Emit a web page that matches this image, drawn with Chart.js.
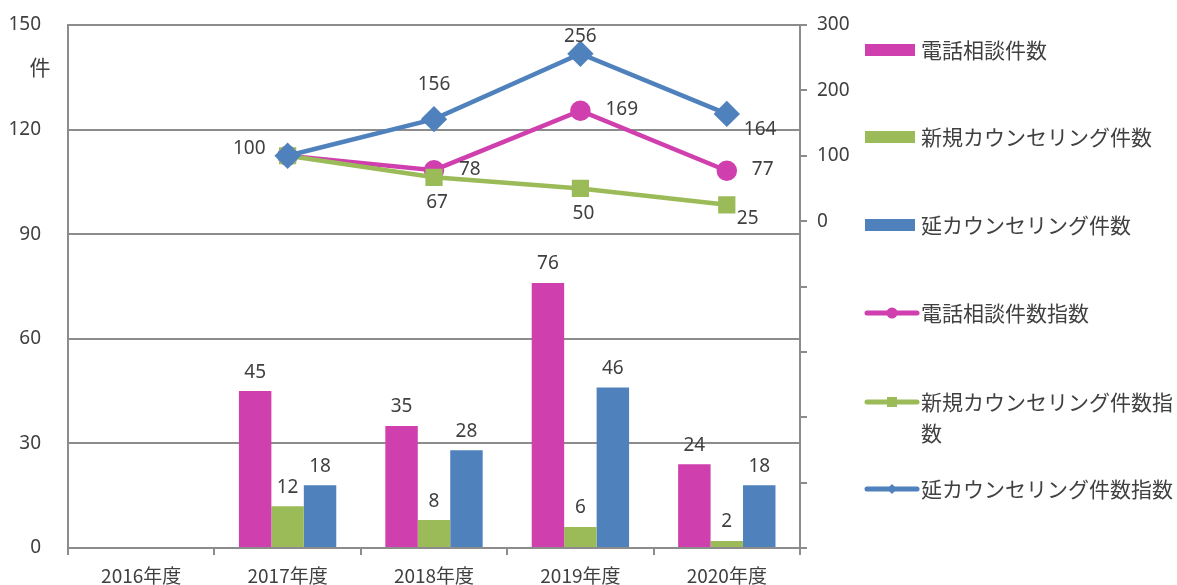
<!DOCTYPE html>
<html>
<head>
<meta charset="utf-8">
<script src="https://cdn.jsdelivr.net/npm/chart.js@4"></script>
<style>
  html, body { margin: 0; padding: 0; background: #fff; }
  #wrap { width: 1177px; height: 585px; }
</style>
</head>
<body>
<div id="wrap"><canvas id="myChart"></canvas></div>
<script>
var Years = ['2016年度', '2017年度', '2018年度', '2019年度', '2020年度'];
var PhoneCounts = [null, 45, 35, 76, 24];
var NewCounts = [null, 12, 8, 6, 2];
var TotalCounts = [null, 18, 28, 46, 18];
var PhoneIndex = [null, 100, 78, 169, 77];
var NewIndex = [null, 100, 67, 50, 25];
var TotalIndex = [null, 100, 156, 256, 164];
// where each index label sits relative to its point
var PhoneIndexPos = [null, 'left', 'right', 'right', 'right'];
var NewIndexPos = [null, 'none', 'below', 'below', 'belowRight'];
var TotalIndexPos = [null, 'none', 'aboveFar', 'above', 'belowRightFar'];

var TextColor = '#404040';
var GridColor = '#8c8c8c';
var NumFont = '"Noto Sans", sans-serif';
var JpFont = '"Noto Sans CJK JP", sans-serif';

var magenta = '#d03fae';
var green = '#9bbb59';
var blue = '#4f81bd';

// labels on bars and points
var valueLabels = {
    id: 'valueLabels',
    afterDatasetsDraw(chart) {
        var ctx = chart.ctx;
        ctx.save();
        ctx.fillStyle = TextColor;
        ctx.font = '19px ' + NumFont;
        ctx.textBaseline = 'middle';
        chart.data.datasets.forEach((ds, i) => {
            var meta = chart.getDatasetMeta(i);
            meta.data.forEach((el, j) => {
                var v = ds.data[j];
                if (v == null) return;
                var x = el.x, y = el.y;
                if (ds.type == 'bar') {
                    ctx.textAlign = 'center';
                    ctx.fillText(v, x, y - 19);
                    return;
                }
                var pos = ds.labelPos[j];
                if (pos == 'none') return;
                if (pos == 'left') { ctx.textAlign = 'right'; ctx.fillText(v, x - 22, y - 7); }
                if (pos == 'right') { ctx.textAlign = 'left'; ctx.fillText(v, x + 25, y - 1); }
                if (pos == 'below') { ctx.textAlign = 'center'; ctx.fillText(v, x + 3, y + 25); }
                if (pos == 'belowRight') { ctx.textAlign = 'left'; ctx.fillText(v, x + 10, y + 14); }
                if (pos == 'belowRightFar') { ctx.textAlign = 'left'; ctx.fillText(v, x + 17, y + 16); }
                if (pos == 'above') { ctx.textAlign = 'center'; ctx.fillText(v, x, y - 17); }
                if (pos == 'aboveFar') { ctx.textAlign = 'center'; ctx.fillText(v, x, y - 35); }
            });
        });
        // unit label of left axis
        ctx.font = '21px ' + JpFont;
        ctx.textAlign = 'center';
        ctx.fillText('件', chart.chartArea.left - 28, chart.chartArea.top + 42);
        ctx.restore();
    }
};

// legend on the right side, drawn by hand so the long name can wrap
var sideLegend = {
    id: 'sideLegend',
    afterDraw(chart) {
        var ctx = chart.ctx;
        var rows = [50, 137, 225, 313, 402, 489];
        var x0 = 865;
        var textX = 921;
        var maxW = 256;
        ctx.save();
        ctx.font = '21px ' + JpFont;
        ctx.textAlign = 'left';
        ctx.textBaseline = 'middle';
        chart.data.datasets.forEach((ds, i) => {
            var y = rows[i];
            var col = ds.borderColor;
            if (ds.type == 'bar') {
                ctx.fillStyle = ds.backgroundColor;
                ctx.fillRect(x0, y - 6, 50, 12);
            } else {
                ctx.strokeStyle = col;
                ctx.lineWidth = 5;
                ctx.lineCap = 'round';
                ctx.beginPath();
                ctx.moveTo(x0 + 2, y);
                ctx.lineTo(x0 + 52, y);
                ctx.stroke();
                ctx.fillStyle = col;
                var cx = x0 + 27;
                ctx.beginPath();
                if (ds.pointStyle == 'circle') {
                    ctx.arc(cx, y, 5.5, 0, Math.PI * 2);
                } else if (ds.pointStyle == 'rect') {
                    ctx.rect(cx - 5, y - 5, 10, 10);
                } else {
                    ctx.moveTo(cx, y - 5); ctx.lineTo(cx + 5, y); ctx.lineTo(cx, y + 5); ctx.lineTo(cx - 5, y);
                }
                ctx.fill();
            }
            ctx.fillStyle = TextColor;
            var line = '';
            var ly = y;
            Array.from(ds.label).forEach(ch => {
                if (ctx.measureText(line + ch).width > maxW) {
                    ctx.fillText(line, textX, ly);
                    line = ch;
                    ly += 31;
                } else {
                    line += ch;
                }
            });
            ctx.fillText(line, textX, ly);
        });
        ctx.restore();
    }
};

var ctx = document.getElementById('myChart').getContext('2d');
var myChart = new Chart(ctx, {
    data: {
        labels: Years,
        datasets: [
            { type: 'bar', label: '電話相談件数', data: PhoneCounts, backgroundColor: magenta, borderColor: magenta, yAxisID: 'y', order: 10 },
            { type: 'bar', label: '新規カウンセリング件数', data: NewCounts, backgroundColor: green, borderColor: green, yAxisID: 'y', order: 11 },
            { type: 'bar', label: '延カウンセリング件数', data: TotalCounts, backgroundColor: blue, borderColor: blue, yAxisID: 'y', order: 12 },
            { type: 'line', label: '電話相談件数指数', data: PhoneIndex, labelPos: PhoneIndexPos, borderColor: magenta, backgroundColor: magenta,
              borderWidth: 4.5, pointStyle: 'circle', pointRadius: 8, pointHoverRadius: 8, yAxisID: 'y1', order: 3 },
            { type: 'line', label: '新規カウンセリング件数指数', data: NewIndex, labelPos: NewIndexPos, borderColor: green, backgroundColor: green,
              borderWidth: 4.5, pointStyle: 'rect', pointRadius: 9, pointHoverRadius: 9, yAxisID: 'y1', order: 2 },
            { type: 'line', label: '延カウンセリング件数指数', data: TotalIndex, labelPos: TotalIndexPos, borderColor: blue, backgroundColor: blue,
              borderWidth: 4.5, pointStyle: 'rectRot', pointRadius: 10, pointHoverRadius: 10, yAxisID: 'y1', order: 1 }
        ]
    },
    options: {
        responsive: true,
        maintainAspectRatio: false,
        animation: false,
        datasets: {
            bar: { categoryPercentage: 0.665, barPercentage: 1.0 }
        },
        layout: { padding: { top: 25, right: 327, left: 0, bottom: 0 } },
        plugins: {
            legend: { display: false },
            tooltip: { enabled: false }
        },
        scales: {
            x: {
                offset: true,
                grid: { offset: true, drawOnChartArea: false, drawTicks: true, tickLength: 7, color: GridColor, lineWidth: 2 },
                border: { display: true, color: GridColor, width: 2 },
                ticks: { color: TextColor, font: { size: 19, family: JpFont }, padding: 9, maxRotation: 0 },
                afterFit(scale) { scale.height = 37; scale.paddingLeft = 0; scale.paddingRight = 0; }
            },
            y: {
                position: 'left',
                min: 0,
                max: 150,
                ticks: { stepSize: 30, color: TextColor, font: { size: 19, family: NumFont }, padding: 27 },
                grid: { color: GridColor, lineWidth: 2, drawTicks: false },
                border: { display: true, color: GridColor, width: 2 },
                afterFit(scale) { scale.width = 68; scale.paddingTop = 0; scale.paddingBottom = 0; }
            },
            y1: {
                position: 'right',
                min: -500,
                max: 300,
                ticks: {
                    stepSize: 100, color: TextColor, font: { size: 19, family: NumFont }, padding: 10,
                    callback: v => v >= 0 ? v : ''
                },
                grid: { drawOnChartArea: false, drawTicks: true, tickLength: 7, color: GridColor, lineWidth: 2 },
                border: { display: true, color: GridColor, width: 2 },
                afterFit(scale) { scale.width = 50; scale.paddingTop = 0; scale.paddingBottom = 0; }
            }
        }
    },
    plugins: [valueLabels, sideLegend]
});
</script>
</body>
</html>
